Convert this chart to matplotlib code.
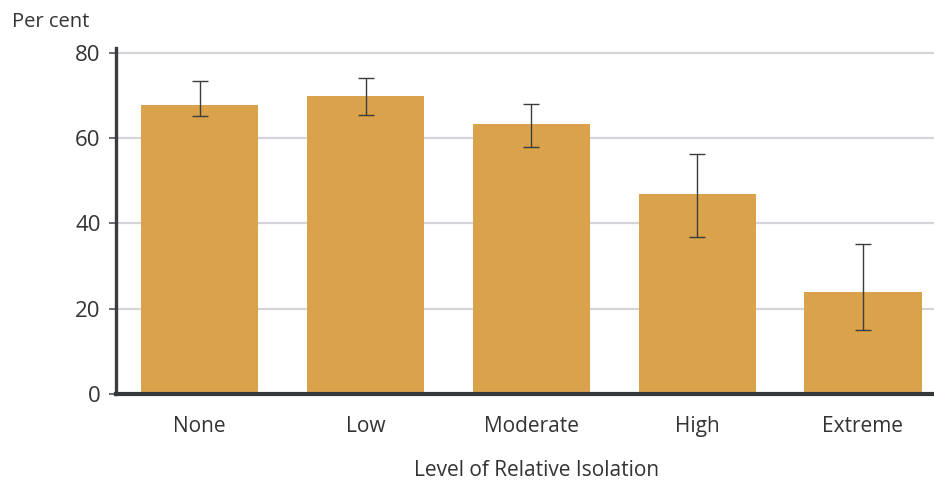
import matplotlib
matplotlib.use("Agg")
import matplotlib.pyplot as plt
import numpy as np

plt.rcParams['font.family'] = ['Open Sans', 'DejaVu Sans']

categories = ["None", "Low", "Moderate", "High", "Extreme"]
values = [67.8, 69.9, 63.2, 46.9, 24.0]
err_low = [65.1, 65.3, 57.8, 36.8, 15.0]
err_high = [73.4, 74.1, 68.1, 56.3, 35.1]
yticks = [0, 20, 40, 60, 80]

fig = plt.figure(figsize=(9.34, 4.8), dpi=100)
ax = fig.add_axes([116/934, 1-394/480, (933.7-116)/934, (394-48.5)/480])

x = np.arange(len(categories))
vals = np.array(values)
lower = vals - np.array(err_low)
upper = np.array(err_high) - vals

ax.bar(x, vals, width=0.707, color="#DBA24C", zorder=2)
ax.errorbar(x, vals, yerr=[lower, upper], fmt='none', ecolor="#3c3c3c",
            elinewidth=1.0, capsize=5.8, capthick=1.0, zorder=3)

ax.set_xlim(-0.505, 4.427)
ax.set_ylim(0, 81)
ax.set_yticks(yticks)
ax.set_yticklabels([str(t) for t in yticks])
ax.set_xticks(x)
ax.set_xticklabels(categories)

ax.yaxis.grid(True, color="#d3d5da", linewidth=1.6, zorder=0)
ax.set_axisbelow(True)

for s in ["top", "right"]:
    ax.spines[s].set_visible(False)
ax.spines["left"].set_color("#3a3c40")
ax.spines["left"].set_linewidth(2.4)
ax.spines["bottom"].set_color("#33363b")
ax.spines["bottom"].set_linewidth(3)

ax.tick_params(axis='y', length=5, width=1.2, color="#555555", pad=6,
               labelsize=16, labelcolor="#333333")
ax.tick_params(axis='x', length=0, pad=16, labelsize=15, labelcolor="#333333")

fig.text(12/934, 1-22/480, "Per cent", fontsize=14.5, color="#333333",
         ha='left', va='center')
fig.text(536.7/934, 1-470/480, "Level of Relative Isolation", fontsize=15,
         color="#333333", ha='center', va='center')

fig.savefig("out.png", dpi=100)
